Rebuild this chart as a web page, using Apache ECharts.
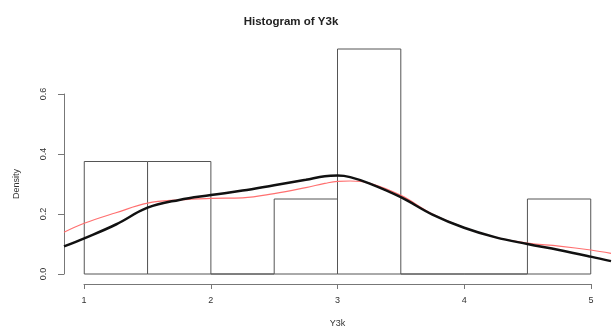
<!DOCTYPE html>
<html><head><meta charset="utf-8">
<script src="https://cdn.jsdelivr.net/npm/echarts@6/dist/echarts.min.js"></script>
<style>html,body{margin:0;padding:0;background:#fff}#c{width:613px;height:327px}</style>
</head><body><div id="c"></div>
<script>
// Histogram bins: [start, end, density]
const binStarts = [1, 1.5, 2, 2.5, 3, 3.5, 4, 4.5];
const binEnds   = [1.5, 2, 2.5, 3, 3.5, 4, 4.5, 5];
const densities = [0.375, 0.375, 0, 0.25, 0.75, 0, 0, 0.25];
// Kernel density curves
const curveX   = [0.84, 1, 1.25, 1.5, 1.75, 2, 2.25, 2.5, 2.75, 2.9, 3, 3.1, 3.25, 3.5, 3.75, 4, 4.25, 4.5, 4.75, 5, 5.16];
const blackY   = [0.092, 0.119, 0.165, 0.221, 0.247, 0.263, 0.278, 0.296, 0.314, 0.326, 0.328, 0.323, 0.302, 0.256, 0.198, 0.154, 0.122, 0.1, 0.08, 0.058, 0.043];
const redY     = [0.139, 0.169, 0.204, 0.236, 0.247, 0.252, 0.254, 0.268, 0.288, 0.302, 0.309, 0.31, 0.303, 0.262, 0.2, 0.155, 0.122, 0.103, 0.093, 0.08, 0.069];
const xTicks = [1, 2, 3, 4, 5];
const yTicks = [0, 0.2, 0.4, 0.6];

const chart = echarts.init(document.getElementById('c'));
const axisColor = '#777';
const textColor = '#333';
const font = 'Liberation Sans, Arial, sans-serif';
chart.setOption({
  animation: false,
  title: {text: 'Histogram of Y3k', left: 286, top: 11, textAlign: 'center',
    textStyle: {fontFamily: font, fontSize: 11.5, fontWeight: 'bold', color: '#222'}},
  grid: [
    {left: 64, right: 2, top: 40, bottom: 44, outerBoundsMode: 'none', containLabel: false},
    {left: 84, right: 22, top: 40, bottom: 43, outerBoundsMode: 'none', containLabel: false},
    {left: 64, right: 2, top: 94, bottom: 53, outerBoundsMode: 'none', containLabel: false}
  ],
  xAxis: [
    {gridIndex: 0, type: 'value', min: 0.84, max: 5.16, show: false},
    {gridIndex: 1, type: 'value', min: 1, max: 5, interval: 1, position: 'bottom',
      axisLine: {show: true, lineStyle: {color: axisColor}},
      axisTick: {show: true, length: 5, lineStyle: {color: axisColor}},
      splitLine: {show: false},
      axisLabel: {color: textColor, fontFamily: font, fontSize: 9, margin: 12,
        formatter: v => xTicks.includes(v) ? String(v) : ''},
      name: 'Y3k', nameLocation: 'middle', nameGap: 35,
      nameTextStyle: {color: textColor, fontFamily: font, fontSize: 9}},
    {gridIndex: 2, type: 'value', min: 0, max: 1, show: false}
  ],
  yAxis: [
    {gridIndex: 0, type: 'value', min: -0.03, max: 0.78, show: false},
    {gridIndex: 1, type: 'value', show: false},
    {gridIndex: 2, type: 'value', min: 0, max: 0.6, interval: 0.2, position: 'left',
      axisLine: {show: true, lineStyle: {color: axisColor}},
      axisTick: {show: true, length: 6, lineStyle: {color: axisColor}},
      splitLine: {show: false},
      axisLabel: {color: textColor, fontFamily: font, fontSize: 9, rotate: 90, margin: 16,
        formatter: v => yTicks.some(t => Math.abs(t - v) < 1e-9) ? v.toFixed(1) : ''},
      name: 'Density', nameLocation: 'middle', nameGap: 43, nameRotate: 90,
      nameTextStyle: {color: textColor, fontFamily: font, fontSize: 9}}
  ],
  series: [
    {
      type: 'custom', xAxisIndex: 0, yAxisIndex: 0,
      data: binStarts.map((s, i) => [s, binEnds[i], densities[i]]),
      renderItem: function (params, api) {
        const p0 = api.coord([api.value(0), 0]);
        const p1 = api.coord([api.value(1), api.value(2)]);
        return {type: 'rect',
          shape: {x: p0[0], y: p1[1], width: p1[0] - p0[0], height: p0[1] - p1[1]},
          style: {fill: '#fff', stroke: '#555', lineWidth: 1}};
      },
      z: 1
    },
    {type: 'line', xAxisIndex: 0, yAxisIndex: 0, smooth: 0.4, symbol: 'none',
      data: curveX.map((x, i) => [x, redY[i]]),
      lineStyle: {color: '#ff7070', width: 1.2}, z: 3},
    {type: 'line', xAxisIndex: 0, yAxisIndex: 0, smooth: 0.4, symbol: 'none',
      data: curveX.map((x, i) => [x, blackY[i]]),
      lineStyle: {color: '#111', width: 2.5}, z: 4}
  ]
});
</script></body></html>
